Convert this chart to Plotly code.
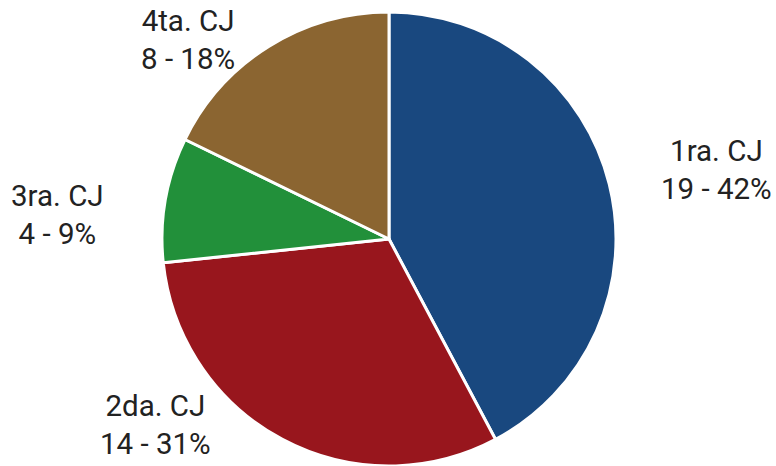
import math
import plotly.graph_objects as go

labels = ["1ra. CJ", "2da. CJ", "3ra. CJ", "4ta. CJ"]
values = [19, 14, 4, 8]
colors = ["#19487f", "#98161d", "#22903a", "#8b6531"]

W, H = 776, 466
ML, MR, MT, MB = 2, 0, 12, 0
FONT = 29.5
LINE_H = 1.3 * FONT
BLOCK_H = 2 * LINE_H

# pie geometry (pixels), derived from layout
cx = ML + (W - ML - MR) / 2
cy = MT + (H - MT - MB) / 2
R = min(W - ML - MR, H - MT - MB) / 2
label_r = R + 58

# small manual nudges (pixels) for readability, like the original
nudges = {"1ra. CJ": (-7, 0), "2da. CJ": (-42, 2), "3ra. CJ": (-2, 25), "4ta. CJ": (-1, 1)}

total = sum(values)
annotations = []
cum = 0
for lab, v in zip(labels, values):
    mid = (cum + v / 2) / total * 2 * math.pi
    cum += v
    dx, dy = math.sin(mid), -math.cos(mid)
    px = cx + label_r * dx
    py = cy + label_r * dy
    py = max(BLOCK_H / 2 + 1, min(H - BLOCK_H / 2 - 5, py))
    nx, ny = nudges.get(lab, (0, 0))
    px += nx
    py += ny
    pct = round(v / total * 100)
    annotations.append(dict(
        x=(px - ML) / (W - ML - MR),
        y=1 - (py - MT) / (H - MT - MB),
        xref="paper", yref="paper",
        text=f"{lab}<br>{v} - {pct}%",
        showarrow=False,
        xanchor="left" if dx > 0 else "right",
        yanchor="middle",
        align="center",
        font=dict(family="Roboto", size=FONT, color="#222222"),
    ))

fig = go.Figure(go.Pie(
    labels=labels,
    values=values,
    sort=False,
    direction="clockwise",
    rotation=0,
    marker=dict(colors=colors, line=dict(color="white", width=3)),
    textinfo="none",
    showlegend=False,
    hoverinfo="label+value+percent",
))

fig.update_layout(
    width=W, height=H,
    margin=dict(l=ML, r=MR, t=MT, b=MB, pad=0),
    paper_bgcolor="white",
    plot_bgcolor="white",
    annotations=annotations,
    font=dict(family="Roboto"),
)

fig.write_html(
    "out.html",
    config={"displayModeBar": False},
    post_script="document.body.style.margin='0';document.body.style.overflow='hidden';",
)
